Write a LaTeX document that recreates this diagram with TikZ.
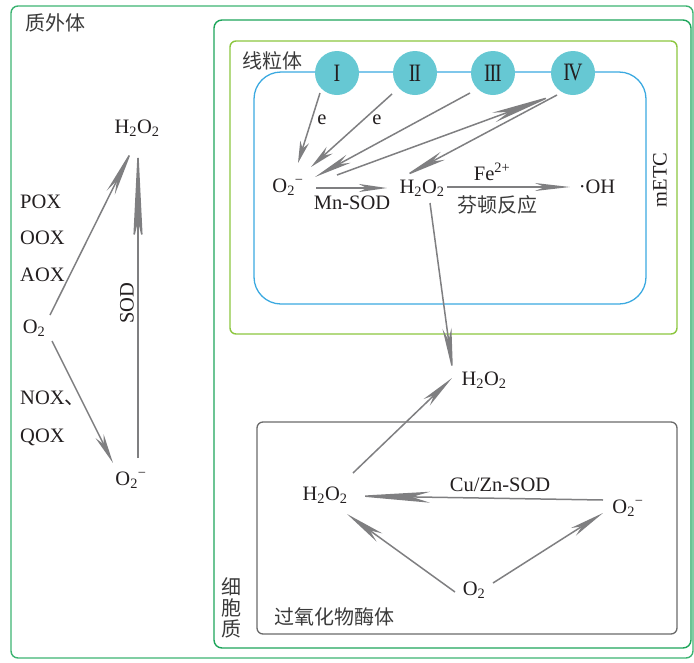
\documentclass[tikz,border=0pt]{standalone}
\usepackage{fontspec}
\setmainfont{Liberation Serif}
\newfontfamily\cjk{Noto Sans CJK SC}
\usepackage{graphicx}
\usetikzlibrary{arrows.meta}
\definecolor{ag}{HTML}{7F7F81}
\definecolor{txt}{HTML}{231F20}
\definecolor{cntxt}{HTML}{3A3A3A}
\definecolor{gOuter}{HTML}{3CB371}
\definecolor{gCyto}{HTML}{1DA55A}
\definecolor{gMito}{HTML}{8CC63F}
\definecolor{bETC}{HTML}{3BA9E0}
\definecolor{cfill}{HTML}{66C8D3}
\definecolor{pbox}{HTML}{6A6A6A}
\newcommand\HHOO{H\textsubscript{2}O\textsubscript{2}}
\newcommand\OO{O\textsubscript{2}}
\newcommand\OOm{O\textsubscript{2}\textsuperscript{−}}
\newcommand\rmn[1]{\scalebox{0.8}[1]{#1}}
\begin{document}
\begin{tikzpicture}[x=1pt,y=-1pt,
  ar/.style n args={3}{draw=ag, line width=1.5pt, -{Stealth[length=#1, width=#2, inset=#3]}},
  lbl/.style={font=\fontsize{20.5}{24}\selectfont, text=txt, inner sep=0pt},
  cn/.style={font=\cjk\fontsize{20}{21}\selectfont, text=cntxt, inner sep=0pt},
  circ/.style={circle, fill=cfill, minimum size=44pt, inner sep=0pt, font=\fontsize{25}{26}\selectfont, text=txt},
  boxline/.style={line width=1.4pt}]
\useasboundingbox (0,0) rectangle (694,662);
% boxes
\draw[boxline, draw=gOuter, rounded corners=7pt] (11,6) rectangle (693,658);
\draw[boxline, draw=gCyto, rounded corners=8pt] (214,20) rectangle (691,648);
\draw[boxline, draw=gMito, rounded corners=6pt] (230,41) rectangle (677,334);
\draw[line width=1.3pt, draw=bETC, rounded corners=27pt] (254,72) rectangle (646,304);
\draw[line width=1.3pt, draw=pbox, rounded corners=6pt] (257,422) rectangle (677,634);
% region labels
\node[cn] (apo) at (55,23) {质外体};
\node[cn] (mito) at (272,61) {线粒体};
\node[cn, align=center] (cyto) at (231,608) {细\\胞\\质};
\node[cn] (perox) at (334,617) {过氧化物酶体};
\node[lbl, rotate=90] (metc) at (660,180) {mETC};
% circles
\node[circ] (c1) at (337,73) {\rmn{I}};
\node[circ] (c2) at (415,73) {\rmn{I\kern-0.06em I}};
\node[circ] (c3) at (493,73) {\rmn{I\kern-0.06em I\kern-0.06em I}};
\node[circ] (c4) at (573,73) {\rmn{I\kern-0.1em V}};
% left part
\node[lbl] (h2L) at (137,128) {\HHOO};
\node[lbl] (o2L) at (34,328) {\OO};
\node[lbl] (o2mL) at (131,480) {\OOm};
\node[lbl, anchor=west] (pox) at (20,202) {POX};
\node[lbl, anchor=west] (oox) at (20,238) {OOX};
\node[lbl, anchor=west] (aox) at (20,275) {AOX};
\node[lbl, anchor=west] (nox) at (20,398) {NOX{\cjk 、}};
\node[lbl, anchor=west] (qox) at (20,437) {QOX};
\node[lbl, rotate=90] (sod) at (127,303) {SOD};
\draw[ar={50pt}{9pt}{14pt}] ([shift={(16,-13)}]o2L.center) -- ([shift={(-4,20)}]h2L.center);
\draw[ar={30pt}{9pt}{9pt}] ([shift={(18,13)}]o2L.center) -- ([shift={(-18,-17)}]o2mL.center);
\draw[ar={100pt}{10pt}{22pt}] ([shift={(7,-22)}]o2mL.center) -- ([shift={(1,15)}]h2L.center);
% mitochondrion
\node[lbl] (o2m) at (288,187) {\OOm};
\node[lbl] (h2m) at (422,188) {\HHOO};
\node[lbl] (oh) at (597,187) {·OH};
\node[lbl] (e1) at (322,120) {e};
\node[lbl] (e2) at (377,120) {e};
\node[lbl] (mnsod) at (352,203) {Mn-SOD};
\node[lbl] (fe) at (492,172) {Fe\textsuperscript{2+}};
\node[cn] (fenton) at (497,205) {芬顿反应};
\draw[ar={22pt}{9pt}{7pt}] ([shift={(-17,20)}]c1.center) -- ([shift={(10,-24)}]o2m.center);
\draw[ar={25pt}{9pt}{8pt}] ([shift={(-23,21)}]c2.center) -- ([shift={(23,-20)}]o2m.center);
\draw[ar={38pt}{9pt}{11pt}] ([shift={(-23,20)}]c3.center) -- ([shift={(27,-10)}]o2m.center);
\draw[ar={65pt}{10pt}{16pt}] ([shift={(49,-12)}]o2m.center) -- ([shift={(-18,22)}]c4.center);
\draw[ar={45pt}{9pt}{12pt}] ([shift={(-16,22)}]c4.center) -- ([shift={(-19,-11)}]h2m.center);
\draw[ar={28pt}{8pt}{8pt}] ([shift={(28,1)}]o2m.center) -- ([shift={(-35,0)}]h2m.center);
\draw[ar={35pt}{8pt}{10pt}] ([shift={(25,-1)}]h2m.center) -- ([shift={(-27,0)}]oh.center);
% transfer
\node[lbl] (h2mid) at (484,380) {\HHOO};
\draw[ar={45pt}{9pt}{12pt}] ([shift={(8,15)}]h2m.center) -- ([shift={(-31,-7)}]h2mid.center);
% peroxisome
\node[lbl] (h2p) at (325,495) {\HHOO};
\node[lbl] (cuzn) at (500,485) {Cu/Zn-SOD};
\node[lbl] (o2mp) at (628,508) {\OOm};
\node[lbl] (o2p) at (474,590) {\OO};
\draw[ar={35pt}{9pt}{10pt}] ([shift={(28,-22)}]h2p.center) -- ([shift={(-32,-2)}]h2mid.center);
\draw[ar={75pt}{11pt}{18pt}] ([shift={(-25,-8)}]o2mp.center) -- ([shift={(30,1)}]h2p.center);
\draw[ar={40pt}{10pt}{12pt}] ([shift={(-19,2)}]o2p.center) -- ([shift={(22,19)}]h2p.center);
\draw[ar={35pt}{9pt}{10pt}] ([shift={(19,-7)}]o2p.center) -- ([shift={(-25,5)}]o2mp.center);
\end{tikzpicture}
\end{document}
